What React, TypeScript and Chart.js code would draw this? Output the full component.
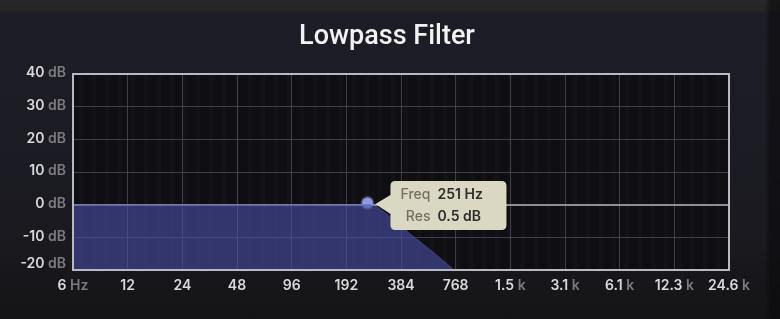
import React, { useEffect, useRef } from 'react';
import { Chart, registerables } from 'chart.js';

Chart.register(...registerables);

// ---- data ----
const chartTitle = 'Lowpass Filter';
const freqHz = [6, 96, 192, 251, 281, 320, 376, 430, 501, 600, 717, 850];
const gainDb = [0, 0, 0, 0, -0.6, -2.8, -6.1, -8.9, -11.8, -15.3, -19, -22.5];
const cutoffHz = [251];
const resonanceDb = [0.5];
const xTickValues = [6, 12, 24, 48, 96, 192, 384, 768, 1536, 3072, 6144, 12288, 24576];
const xTickLabels = ['6 Hz', '12', '24', '48', '96', '192', '384', '768', '1.5 k', '3.1 k', '6.1 k', '12.3 k', '24.6 k'];
const yTickValues = [40, 30, 20, 10, 0, -10, -20];
const yUnit = 'dB';
const infoLabels = ['Freq', 'Res'];

const FONT = 'Inter, "Noto Sans", sans-serif';
const NUM_COLOR = '#d9d9db';
const UNIT_COLOR = '#7b7b80';
const GRID = 'rgba(80,80,90,0.75)';

function twoTone(ctx: CanvasRenderingContext2D, label: string, x: number, y: number, align: 'center' | 'right') {
  const sp = label.indexOf(' ');
  const num = sp >= 0 ? label.slice(0, sp) : label;
  const unit = sp >= 0 ? label.slice(sp) : '';
  ctx.font = `600 14px ${FONT}`;
  const wn = ctx.measureText(num).width;
  const wu = ctx.measureText(unit).width;
  const total = wn + wu;
  const start = align === 'center' ? x - total / 2 : x - total;
  ctx.textAlign = 'left';
  ctx.textBaseline = 'middle';
  ctx.fillStyle = NUM_COLOR;
  ctx.fillText(num, start, y);
  if (unit) {
    ctx.fillStyle = UNIT_COLOR;
    ctx.fillText(unit, start + wn, y);
  }
}

const decorPlugin = {
  id: 'decor',
  beforeDraw(chart: any) {
    const { ctx, chartArea: a } = chart;
    ctx.save();
    ctx.fillStyle = '#0f0f13';
    ctx.fillRect(a.left, a.top, a.right - a.left, a.bottom - a.top);
    // faint vertical texture
    ctx.fillStyle = 'rgba(255,255,255,0.018)';
    for (let x = a.left + 6; x < a.right; x += 13) {
      ctx.fillRect(x, a.top, 4, a.bottom - a.top);
    }
    ctx.restore();
  },
  afterDraw(chart: any) {
    const { ctx, chartArea: a, scales } = chart;
    ctx.save();
    // frame
    ctx.strokeStyle = '#b9b9c1';
    ctx.lineWidth = 2;
    ctx.strokeRect(a.left, a.top, a.right - a.left, a.bottom - a.top);

    // axis labels (two-tone)
    const xs = scales.x;
    xTickValues.forEach((v, i) => {
      twoTone(ctx, xTickLabels[i], xs.getPixelForValue(v), a.bottom + 16, 'center');
    });
    const ys = scales.y;
    yTickValues.forEach((v) => {
      let y = ys.getPixelForValue(v) - 1;
      if (y > a.bottom - 6) y = a.bottom - 6;
      twoTone(ctx, `${v} ${yUnit}`, a.left - 7, y, 'right');
    });

    // info box next to the cutoff point
    const el = chart.getDatasetMeta(1).data[0];
    if (el) {
      const px = el.x;
      const py = el.y;
      const L = px + 23;
      const T = py - 22;
      const W = 116;
      const H = 49;
      const R = L + W;
      const B = T + H;
      const r = 5;
      ctx.beginPath();
      ctx.moveTo(L + r, T);
      ctx.lineTo(R - r, T);
      ctx.quadraticCurveTo(R, T, R, T + r);
      ctx.lineTo(R, B - r);
      ctx.quadraticCurveTo(R, B, R - r, B);
      ctx.lineTo(L + r, B);
      ctx.quadraticCurveTo(L, B, L, B - r);
      ctx.lineTo(L, py + 11);
      ctx.lineTo(px + 8, py + 1);
      ctx.lineTo(L, py - 8);
      ctx.lineTo(L, T + r);
      ctx.quadraticCurveTo(L, T, L + r, T);
      ctx.closePath();
      ctx.fillStyle = '#dad8c3';
      ctx.fill();

      const values = [`${cutoffHz[0]} Hz`, `${resonanceDb[0]} dB`];
      const rows = [py - 8, py + 14];
      rows.forEach((ry, i) => {
        ctx.textBaseline = 'middle';
        ctx.textAlign = 'right';
        ctx.font = `500 14px ${FONT}`;
        ctx.fillStyle = '#71705f';
        ctx.fillText(infoLabels[i], L + 40, ry);
        ctx.textAlign = 'left';
        ctx.font = `600 14px ${FONT}`;
        ctx.fillStyle = '#2d2d2a';
        ctx.fillText(values[i], L + 47, ry);
      });
    }
    ctx.restore();
  },
};

export default function App() {
  const canvasRef = useRef<HTMLCanvasElement>(null);

  useEffect(() => {
    if (!canvasRef.current) return;
    const chart = new Chart(canvasRef.current, {
      type: 'line',
      data: {
        datasets: [
          {
            label: 'Response',
            data: freqHz.map((f, i) => ({ x: f, y: gainDb[i] })),
            fill: 'start',
            backgroundColor: 'rgba(74,80,168,0.6)',
            borderColor: 'rgba(95,100,185,0.45)',
            borderWidth: 1,
            pointRadius: 0,
            cubicInterpolationMode: 'monotone',
          },
          {
            label: 'Cutoff',
            data: cutoffHz.map((f, i) => ({ x: f, y: resonanceDb[i] })),
            showLine: false,
            pointRadius: 5.5,
            pointBackgroundColor: '#8f99dd',
            pointBorderColor: 'rgba(143,153,221,0.35)',
            pointBorderWidth: 3,
          },
        ],
      },
      options: {
        animation: false,
        responsive: true,
        maintainAspectRatio: false,
        events: [],
        layout: { padding: { left: 45, right: 51, top: 0, bottom: 0 } },
        plugins: {
          legend: { display: false },
          tooltip: { enabled: false },
          title: {
            display: true,
            text: chartTitle,
            color: '#f2f2f4',
            font: { family: 'Roboto, Inter, sans-serif', size: 27, weight: '500', lineHeight: 1.2 },
            padding: { top: 21, bottom: 20.6 },
          },
        },
        scales: {
          x: {
            type: 'logarithmic',
            min: 6,
            max: 24576,
            afterBuildTicks: (s: any) => {
              s.ticks = xTickValues.map((v) => ({ value: v }));
            },
            afterFit: (s: any) => {
              s.height = 49;
            },
            ticks: {
              autoSkip: false,
              maxRotation: 0,
              color: 'rgba(0,0,0,0)',
              font: { family: FONT, size: 14, weight: '600' },
              callback: (_v: any, i: number) => xTickLabels[i],
            },
            grid: { color: GRID, lineWidth: 1, drawTicks: false },
            border: { display: false },
          },
          y: {
            type: 'linear',
            min: -20,
            max: 40,
            afterBuildTicks: (s: any) => {
              s.ticks = yTickValues.map((v) => ({ value: v }));
            },
            afterFit: (s: any) => {
              s.width = 28;
            },
            ticks: {
              color: 'rgba(0,0,0,0)',
              font: { family: FONT, size: 14, weight: '600' },
              callback: (v: any) => `${v} ${yUnit}`,
            },
            grid: {
              color: (c: any) => (c.tick && c.tick.value === 0 ? '#8e8e96' : GRID),
              lineWidth: (c: any) => (c.tick && c.tick.value === 0 ? 2 : 1),
              drawTicks: false,
            },
            border: { display: false },
          },
        },
      } as any,
      plugins: [decorPlugin],
    });
    return () => chart.destroy();
  }, []);

  return (
    <div
      style={{
        position: 'fixed',
        left: 0,
        top: 0,
        width: 780,
        height: 319,
        background:
          'linear-gradient(to right, rgba(0,0,0,0) 0px, rgba(0,0,0,0) 765px, rgba(8,8,10,0.55) 770px), linear-gradient(to bottom, #272727 0px, #262626 10px, #1d1d27 13px, #1c1c25 120px, #19191e 250px, #141416 319px)',
      }}
    >
      <canvas ref={canvasRef} />
    </div>
  );
}
